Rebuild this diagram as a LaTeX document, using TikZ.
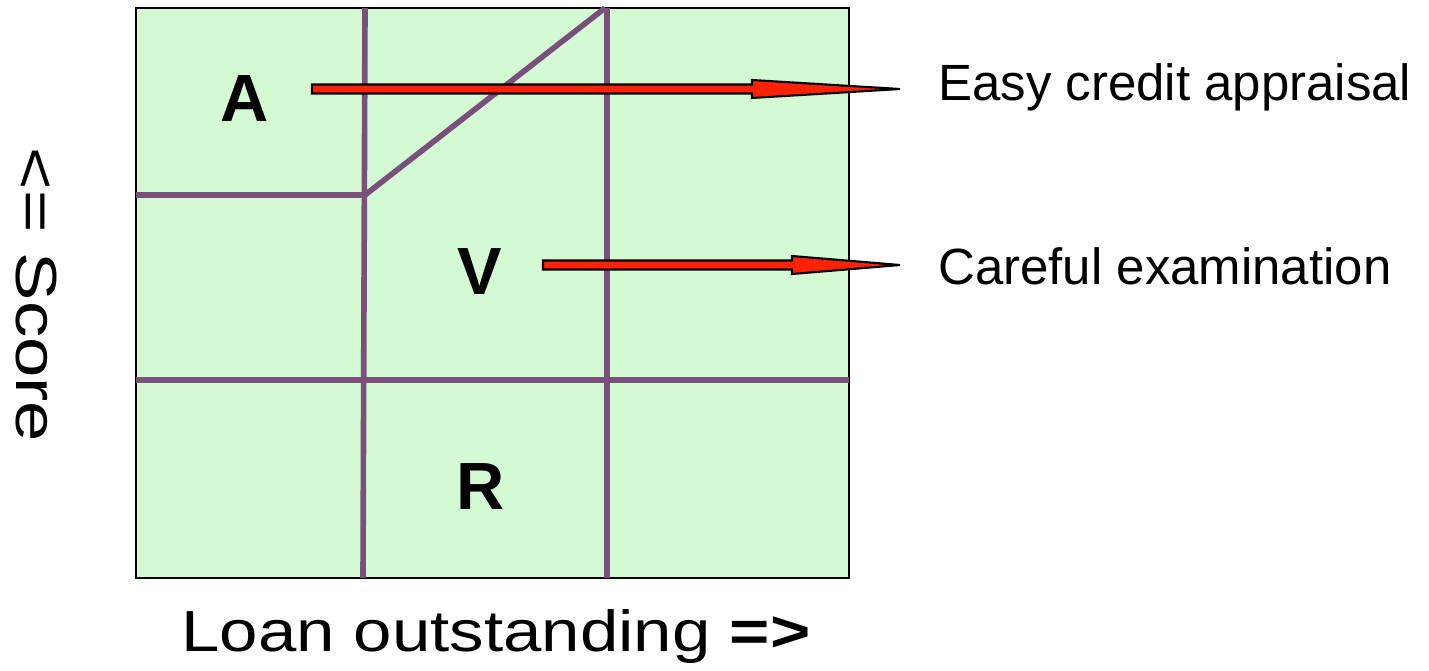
\documentclass[tikz,border=0pt]{standalone}
\usepackage{fontspec}
\usepackage{graphicx}
\setmainfont{Liberation Sans}
\usetikzlibrary{calc}
\definecolor{fieldgreen}{RGB}{212,250,212}
\definecolor{gridpurple}{RGB}{123,79,124}
\definecolor{arrowred}{RGB}{255,34,0}
\tikzset{
  gridline/.style={gridpurple, line width=3.2pt},
  zonelabel/.style={inner sep=0pt, font=\fontsize{38}{40}\selectfont\bfseries},
  sidetext/.style={inner sep=0pt, font=\fontsize{29}{32}\selectfont},
  axistext/.style={inner sep=0pt, font=\fontsize{33}{38}\selectfont},
  redarrow/.style={fill=arrowred, draw=black, line width=1.2pt, line join=miter}
}
\newcommand{\flatarrow}[3]{% tail, tip, head length
  \draw[redarrow] ($(#1)+(0,-4.5)$) -- ($(#2)+(-#3,-4.5)$) -- ($(#2)+(-#3,-9)$) -- (#2)
    -- ($(#2)+(-#3,9)$) -- ($(#2)+(-#3,4.5)$) -- ($(#1)+(0,4.5)$) -- cycle;}

\begin{document}
\begin{tikzpicture}[x=0.02cm, y=-0.02cm]
    \useasboundingbox (0,0) rectangle (1429,670);
    \draw[fill=fieldgreen, line width=1pt] (136,8) rectangle (849,578);
    \draw[gridline] (365,8) -- (363,578);
    \draw[gridline] (607,8) -- (607,578);
    \draw[gridline] (136,380) -- (849,380);
    \draw[gridline] (136,195) -- (365,195) -- (605,8);
    \node[zonelabel] (A) at (245,99) {A};
    \node[zonelabel] (V) at (480,272) {V};
    \node[zonelabel] (R) at (481,487) {R};
    \node[sidetext, anchor=base west] (easy) at (938,100) {Easy credit appraisal};
    \node[sidetext, anchor=base west] (careful) at (938,284) {Careful examination};
    \coordinate (tailA) at (312,89);
    \coordinate (tipA) at ($(easy.west |- tailA)+(-38,0)$);
    \coordinate (tailV) at (543,265);
    \coordinate (tipV) at ($(careful.west |- tailV)+(-38,0)$);
    \flatarrow{tailA}{tipA}{148}
    \flatarrow{tailV}{tipV}{108}
    \node[axistext, anchor=base west] (loan) at (181,651) {\scalebox{1.19}[1]{Loan outstanding \textbf{=>}}};
    \node[axistext, rotate=-90] (score) at (36,295) {\scalebox{1.25}[1]{<= Score}};
\end{tikzpicture}
\end{document}
